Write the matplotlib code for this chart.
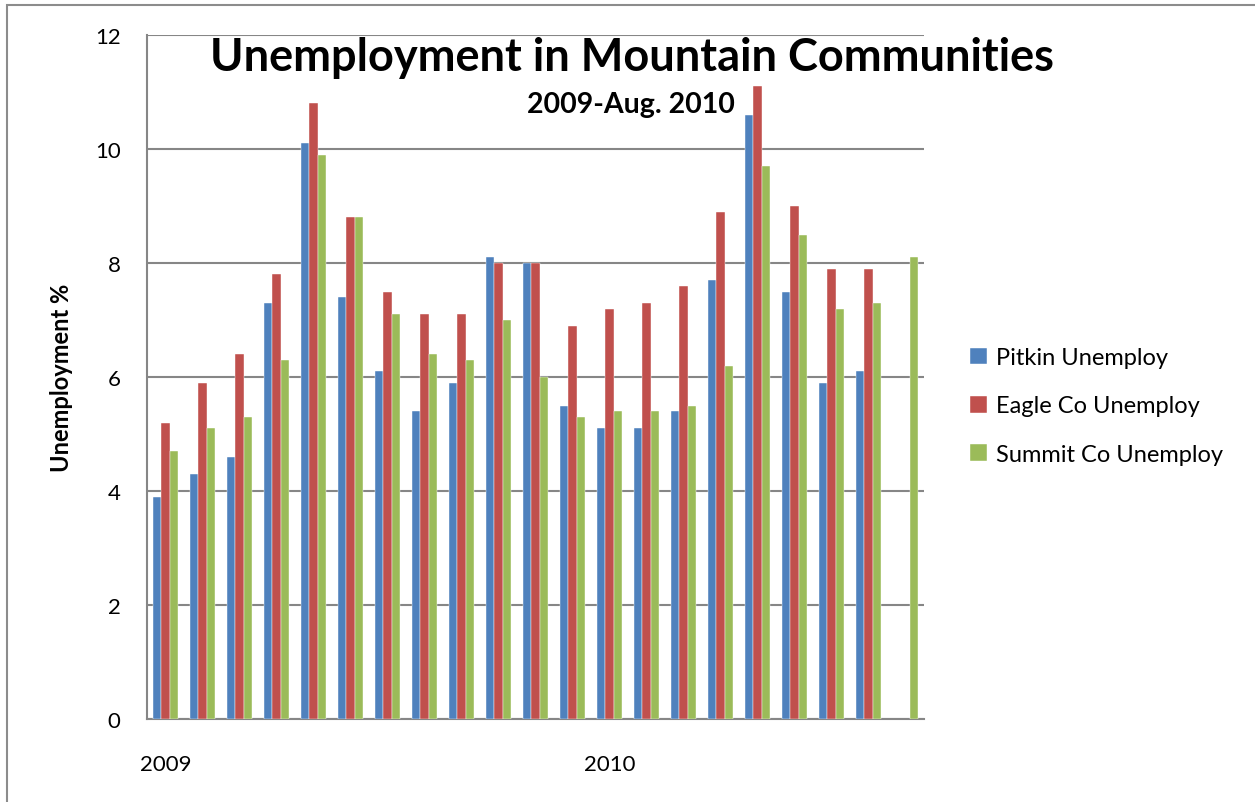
import numpy as np
import matplotlib
matplotlib.use("Agg")
import matplotlib.pyplot as plt
from matplotlib.patches import Rectangle

# monthly values, Jan 2009 .. Sep 2010 (last month only Summit reported)
months = ["Jan 2009", "Feb 2009", "Mar 2009", "Apr 2009", "May 2009", "Jun 2009",
          "Jul 2009", "Aug 2009", "Sep 2009", "Oct 2009", "Nov 2009", "Dec 2009",
          "Jan 2010", "Feb 2010", "Mar 2010", "Apr 2010", "May 2010", "Jun 2010",
          "Jul 2010", "Aug 2010", "Sep 2010"]
pitkin = [3.9, 4.3, 4.6, 7.3, 10.1, 7.4, 6.1, 5.4, 5.9, 8.1, 8.0,
          5.5, 5.1, 5.1, 5.4, 7.7, 10.6, 7.5, 5.9, 6.1, np.nan]
eagle = [5.2, 5.9, 6.4, 7.8, 10.8, 8.8, 7.5, 7.1, 7.1, 8.0, 8.0,
         6.9, 7.2, 7.3, 7.6, 8.9, 11.1, 9.0, 7.9, 7.9, np.nan]
summit = [4.7, 5.1, 5.3, 6.3, 9.9, 8.8, 7.1, 6.4, 6.3, 7.0, 6.0,
          5.3, 5.4, 5.4, 5.5, 6.2, 9.7, 8.5, 7.2, 7.3, 8.1]
series_names = ["Pitkin Unemploy", "Eagle Co Unemploy", "Summit Co Unemploy"]
series_colors = ["#4F81BD", "#C0504D", "#9BBB59"]
year_labels = {0: "2009", 12: "2010"}

plt.rcParams["font.family"] = ["Lato", "DejaVu Sans"]

fig = plt.figure(figsize=(12.55, 8.03), dpi=100)
# chart area border
fig.patches.append(Rectangle((7 / 1255, -0.01), 1.0, 1 - 6 / 803 + 0.01,
                             transform=fig.transFigure, fill=False,
                             edgecolor="#8c8c8c", lw=1.5))

ax = fig.add_axes([147 / 1255, 1 - 720 / 803, (924 - 147) / 1255, (720 - 36) / 803])

x = np.arange(len(months)) + 0.5
w = 1 / 4.5
for k, (vals, name, col) in enumerate(zip([pitkin, eagle, summit], series_names, series_colors)):
    ax.bar(x + (k - 1) * w, vals, width=w, color=col, label=name, zorder=3,
           edgecolor="white", linewidth=0.3)

ax.set_xlim(0, len(months))
ax.set_ylim(0, 12)
ax.set_yticks(range(0, 13, 2))
ax.tick_params(axis="y", labelsize=16, length=0, pad=19)
ax.set_xticks([x[i] for i in year_labels])
ax.set_xticklabels(list(year_labels.values()), fontsize=16)
ax.tick_params(axis="x", length=0, pad=25)
ax.grid(True, axis="y", color="#868686", lw=1.5, zorder=0)
for s in ["top", "right"]:
    ax.spines[s].set_visible(False)
ax.spines["left"].set_color("#868686")
ax.spines["bottom"].set_color("#868686")
ax.spines["left"].set_linewidth(1.5)
ax.spines["bottom"].set_linewidth(1.5)

ax.set_ylabel("Unemployment %", fontsize=17, fontweight="bold", labelpad=16)

fig.text(632 / 1255, 1 - 58 / 803, "Unemployment in Mountain Communities",
         fontsize=32.5, fontweight="bold", ha="center", va="center")
fig.text(631 / 1255, 1 - 105 / 803, "2009-Aug. 2010",
         fontsize=20.5, fontweight="bold", ha="center", va="center")

fig.legend(loc="center left", bbox_to_anchor=(949 / 1255, 1 - 407 / 803),
           frameon=False, fontsize=17, handlelength=0.7, handleheight=0.7,
           handletextpad=0.4, labelspacing=1.15)

fig.savefig("out.png", dpi=100)
